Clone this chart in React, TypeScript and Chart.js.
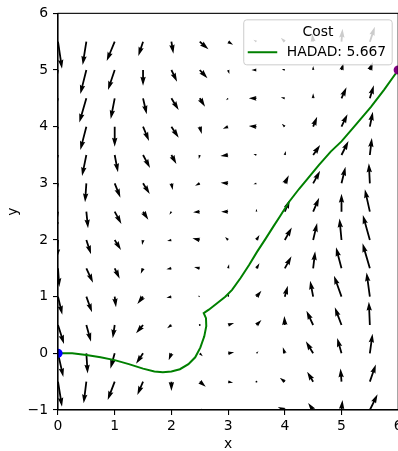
import React, { useEffect, useRef } from 'react';
import { Chart, registerables } from 'chart.js';

Chart.register(...registerables);

// ---------- data ----------
const GRID_X = [0, 0.5, 1, 1.5, 2, 2.5, 3, 3.5, 4, 4.5, 5, 5.5];
const GRID_Y = [-1, -0.5, 0, 0.5, 1, 1.5, 2, 2.5, 3, 3.5, 4, 4.5, 5, 5.5];

// vector field components, one row per GRID_Y value, one column per GRID_X value
const FIELD_U = [
  [3, -5, -8, -4, 1, 5, 3, 2, -7, -5, 1, 7.7],
  [4, -2.7, -7, -5.7, 0, 6, 5, 0.5, -5, -6, -1, 6],
  [5.3, 1.3, -4.3, -7, -2.7, 3, 6, 2, -2, -7.3, -4.3, 2.7],
  [6, 4.7, -2, -7, -4.3, 0.5, 6, 5, -0.5, -6.7, -6.7, -1],
  [4.3, 5.7, 1.3, -5.7, -5, -2, 1, 5, 3, -3, -7.5, -3.3],
  [1.3, 6.7, 5, -2.3, -5, -5.7, 1, 3, 6.7, 2, -5.5, -7.3],
  [-1, 4.7, 6.3, -1, -4.3, -7.3, -3, 3, 7, 4, -2, -7],
  [-3, 1.7, 6.7, 5.3, -2, -6.7, -7, 0, 5, 6, 0, -5],
  [-4, -1.3, 5.7, 6.7, 1.3, -4.7, -7.5, -3, 4, 7, 4, -1],
  [-6, -4.3, 3.3, 7, 5, -1, -7.7, -3, 1, 7, 7, 2],
  [-7, -6, 0, 6, 7.3, 2, -5.3, -7.7, -3, 4, 6, 3],
  [-7, -7, -4, 3.7, 7.3, 5.3, -2, -7.7, -4, 0, 5, 4],
  [-5, -6, -6.7, 0, 5.7, 7.7, 1.3, -5, -3, 0, 2, 3],
  [4, -3.7, -8, -4.7, 2, 8.7, 5, -3, -4, -1, 1, 5],
];
const FIELD_V = [
  [-26, -23, -20, -14, -10, -6, -1, 0, 3, 7, 10, 15.7],
  [-25, -21.7, -18.3, -13.3, -9.3, -5, -1, 0, 4, 10, 13.3, 17.3],
  [-23.7, -20.3, -15.3, -10.3, -7, -3, 1, 2, 6, 12, 15.3, 19.7],
  [-19, -16.7, -13.3, -8.3, -3.3, 0, 2, 5, 9, 14.3, 17.7, 23.3],
  [-18, -15.7, -10.7, -7.3, -1, 1, 3, 6, 11, 16, 21, 24.3],
  [-18.7, -14.3, -10.3, -5.3, -1, 1.3, 4, 5, 12, 17, 21, 25],
  [-18, -14.3, -10, -5, -1, 1.7, 3, 5, 12.5, 17, 21.5, 25],
  [-19, -16.7, -12.3, -8, -3, -0.7, 0, 3, 12, 14, 18, 22.5],
  [-21, -19, -14.3, -10.7, -6.7, -2.3, 0.7, -1, 8, 12.5, 16.5, 20],
  [-23, -21, -17.3, -13, -9, -4, -1, 1, 4, 10, 14, 17],
  [-24, -23.3, -20, -14.3, -11, -7.3, -2, 0.7, 3, 10, 12.5, 15],
  [-25, -24.3, -20.7, -16, -11.7, -8.3, -2, 0, 1, 5, 11, 13],
  [-25, -24, -20, -15.7, -11.7, -8.3, -4, 0, 1, 4, 7, 8],
  [-27, -23.3, -19.3, -14.3, -12, -7.7, -3, 2, 4, 8, 13, 15],
];
const QUIVER_SCALE = 1 / 56.7; // data units per field unit

const PATH_X = [0, 0.25, 0.5, 0.75, 1.0, 1.25, 1.5, 1.7, 1.85, 2.0, 2.15, 2.3, 2.42, 2.51, 2.58, 2.615, 2.61, 2.57, 2.66, 2.8, 2.95, 3.07, 3.22, 3.37, 3.51, 3.66, 3.8, 3.93, 4.08, 4.25, 4.4, 4.6, 4.81, 5.0, 5.25, 5.52, 5.75, 6.0];
const PATH_Y = [0, 0.0, -0.03, -0.07, -0.12, -0.19, -0.27, -0.32, -0.335, -0.32, -0.28, -0.19, -0.07, 0.1, 0.3, 0.48, 0.62, 0.71, 0.77, 0.88, 1.0, 1.12, 1.33, 1.56, 1.79, 2.02, 2.24, 2.44, 2.68, 2.9, 3.08, 3.32, 3.56, 3.74, 4.03, 4.35, 4.65, 5.0];

const START_POINT = [0, 0];
const END_POINT = [6, 5];

const X_TICKS = [0, 1, 2, 3, 4, 5, 6];
const Y_TICKS = [-1, 0, 1, 2, 3, 4, 5, 6];

const LEGEND_TITLE = 'Cost';
const PATH_LABEL = 'HADAD: 5.667';
const X_LABEL = 'x';
const Y_LABEL = 'y';

// ---------- drawing helpers ----------
const FONT = 'DejaVu Sans';
const FS = 13.9;

function drawArrow(ctx: CanvasRenderingContext2D, x0: number, y0: number, x1: number, y1: number, w: number) {
  const dx = x1 - x0;
  const dy = y1 - y0;
  const L = Math.hypot(dx, dy);
  ctx.save();
  ctx.translate(x0, y0);
  ctx.rotate(Math.atan2(dy, dx));
  if (L < w) {
    ctx.beginPath();
    ctx.arc(0, 0, w * 0.5, 0, Math.PI * 2);
    ctx.fill();
    ctx.restore();
    return;
  }
  const hl = 5 * w;
  const hw = 3 * w;
  const hal = 4.5 * w;
  let len = L;
  if (L < hl) {
    const s = L / hl;
    ctx.scale(s, s);
    len = hl;
  }
  ctx.beginPath();
  ctx.moveTo(0, -w / 2);
  ctx.lineTo(len - hal, -w / 2);
  ctx.lineTo(len - hl, -hw / 2);
  ctx.lineTo(len, 0);
  ctx.lineTo(len - hl, hw / 2);
  ctx.lineTo(len - hal, w / 2);
  ctx.lineTo(0, w / 2);
  ctx.closePath();
  ctx.fill();
  ctx.restore();
}

const quiverPlugin = {
  id: 'quiver',
  beforeDatasetsDraw(chart: any) {
    const { ctx, chartArea, scales } = chart;
    const xs = scales.x;
    const ys = scales.y;
    ctx.save();
    ctx.beginPath();
    ctx.rect(chartArea.left, chartArea.top, chartArea.right - chartArea.left, chartArea.bottom - chartArea.top);
    ctx.clip();
    ctx.fillStyle = '#000000';
    GRID_Y.forEach((gy, r) => {
      GRID_X.forEach((gx, c) => {
        const u = FIELD_U[r][c] * QUIVER_SCALE;
        const v = FIELD_V[r][c] * QUIVER_SCALE;
        const px0 = xs.getPixelForValue(gx);
        const py0 = ys.getPixelForValue(gy);
        const px1 = xs.getPixelForValue(gx + u);
        const py1 = ys.getPixelForValue(gy + v);
        drawArrow(ctx, px0, py0, px1, py1, 1.8);
      });
    });
    ctx.restore();
  },
};

const framePlugin = {
  id: 'frame',
  afterDatasetsDraw(chart: any) {
    const { ctx, chartArea } = chart;
    ctx.save();
    ctx.strokeStyle = '#000000';
    ctx.lineWidth = 1.1;
    ctx.strokeRect(chartArea.left, chartArea.top, chartArea.right - chartArea.left, chartArea.bottom - chartArea.top);
    ctx.restore();
  },
};

const legendPlugin = {
  id: 'mplLegend',
  afterDraw(chart: any) {
    const { ctx, chartArea } = chart;
    ctx.save();
    ctx.font = `${FS}px "${FONT}"`;
    const tw = ctx.measureText(PATH_LABEL).width;
    const boxW = 43 + tw + 6;
    const boxH = 45;
    const right = chartArea.right - 6;
    const top = chartArea.top + 6.5;
    const left = right - boxW;
    const r = 3;
    ctx.beginPath();
    ctx.moveTo(left + r, top);
    ctx.lineTo(right - r, top);
    ctx.quadraticCurveTo(right, top, right, top + r);
    ctx.lineTo(right, top + boxH - r);
    ctx.quadraticCurveTo(right, top + boxH, right - r, top + boxH);
    ctx.lineTo(left + r, top + boxH);
    ctx.quadraticCurveTo(left, top + boxH, left, top + boxH - r);
    ctx.lineTo(left, top + r);
    ctx.quadraticCurveTo(left, top, left + r, top);
    ctx.closePath();
    ctx.fillStyle = 'rgba(255,255,255,0.8)';
    ctx.fill();
    ctx.strokeStyle = '#cccccc';
    ctx.lineWidth = 1;
    ctx.stroke();

    ctx.fillStyle = '#000000';
    ctx.textBaseline = 'middle';
    ctx.textAlign = 'center';
    ctx.fillText(LEGEND_TITLE, left + boxW / 2, top + 12.4);

    const ly = top + 32.4;
    ctx.strokeStyle = '#008000';
    ctx.lineWidth = 2;
    ctx.beginPath();
    ctx.moveTo(left + 4, ly);
    ctx.lineTo(left + 33.5, ly);
    ctx.stroke();

    ctx.textAlign = 'left';
    ctx.fillText(PATH_LABEL, left + 43, ly);
    ctx.restore();
  },
};

const fmtTick = (v: number) => (v < 0 ? '\u2212' + Math.abs(v) : String(v));

export default function App() {
  const ref = useRef<HTMLCanvasElement | null>(null);

  useEffect(() => {
    if (!ref.current) return;
    const pathData = PATH_X.map((x, i) => ({ x, y: PATH_Y[i] }));
    const chart = new Chart(ref.current, {
      type: 'scatter',
      data: {
        datasets: [
          {
            label: 'start',
            data: [{ x: START_POINT[0], y: START_POINT[1] }],
            pointRadius: 4.6,
            pointBackgroundColor: '#0000ff',
            pointBorderWidth: 0,
            clip: 0,
            order: 0,
          } as any,
          {
            label: 'end',
            data: [{ x: END_POINT[0], y: END_POINT[1] }],
            pointRadius: 4.6,
            pointBackgroundColor: '#800080',
            pointBorderWidth: 0,
            clip: 0,
            order: 0,
          } as any,
          {
            label: PATH_LABEL,
            data: pathData,
            showLine: true,
            borderColor: '#008000',
            borderWidth: 2,
            pointRadius: 0,
            tension: 0,
            clip: 0,
            order: 1,
          } as any,
        ],
      },
      options: {
        animation: false,
        responsive: false,
        events: [],
        layout: { padding: { left: 0, top: 13, right: 440 - 398.2, bottom: 0 } },
        plugins: {
          legend: { display: false },
          tooltip: { enabled: false },
        },
        scales: {
          x: {
            type: 'linear',
            min: 0,
            max: 6,
            afterFit: (s: any) => {
              s.height = 41;
            },
            afterBuildTicks: (s: any) => {
              s.ticks = X_TICKS.map((v) => ({ value: v }));
            },
            ticks: {
              color: '#000000',
              font: { family: FONT, size: FS },
              padding: 3,
              maxRotation: 0,
              autoSkip: false,
              callback: (v: any) => fmtTick(Number(v)),
            },
            grid: { drawOnChartArea: false, drawTicks: true, tickLength: 5, color: '#000000', lineWidth: 1.1 },
            border: { display: true, color: '#000000', width: 1.1 },
            title: {
              display: true,
              text: X_LABEL,
              color: '#000000',
              font: { family: FONT, size: FS, lineHeight: 1 },
              padding: { top: 0, bottom: 0 },
            },
          },
          y: {
            type: 'linear',
            min: -1,
            max: 6,
            afterFit: (s: any) => {
              s.width = 58;
            },
            afterBuildTicks: (s: any) => {
              s.ticks = Y_TICKS.map((v) => ({ value: v }));
            },
            ticks: {
              color: '#000000',
              font: { family: FONT, size: FS },
              padding: 5,
              autoSkip: false,
              callback: (v: any) => fmtTick(Number(v)),
            },
            grid: { drawOnChartArea: false, drawTicks: true, tickLength: 5, color: '#000000', lineWidth: 1.1 },
            border: { display: true, color: '#000000', width: 1.1 },
            title: {
              display: true,
              text: Y_LABEL,
              color: '#000000',
              font: { family: FONT, size: FS, lineHeight: 1 },
              padding: { top: 6.0, bottom: 0 },
            },
          },
        },
      } as any,
      plugins: [quiverPlugin, framePlugin, legendPlugin],
    });
    return () => chart.destroy();
  }, []);

  return (
    <div style={{ position: 'fixed', left: 0, top: 0, width: 440, height: 451, background: '#ffffff' }}>
      <canvas ref={ref} width={440} height={451} style={{ display: 'block' }} />
    </div>
  );
}
